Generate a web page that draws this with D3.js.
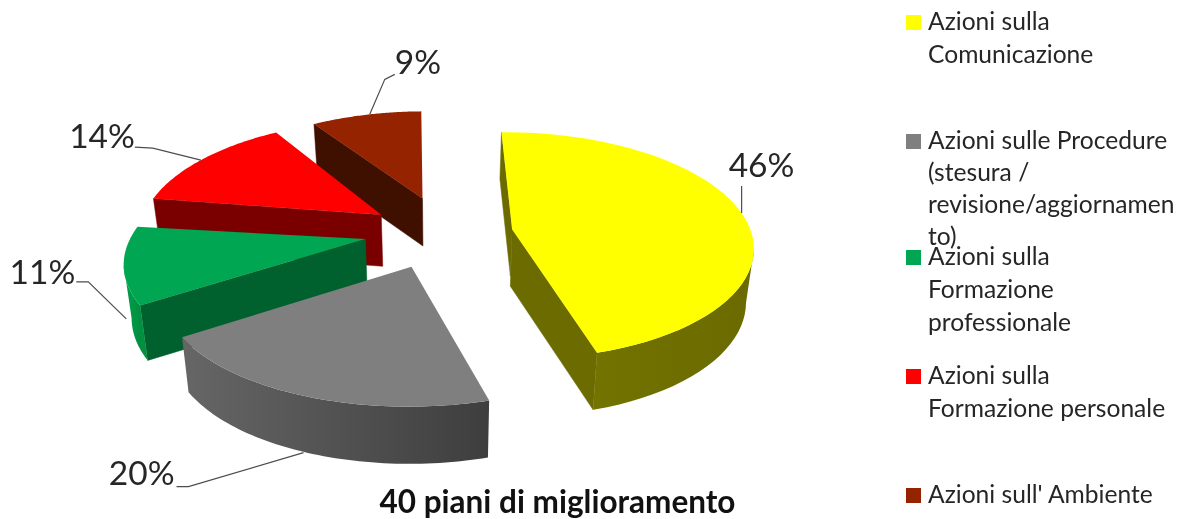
<!DOCTYPE html>
<html>
<head>
<meta charset="utf-8">
<script src="https://cdn.jsdelivr.net/npm/d3@7"></script>
<style>
  html, body { margin: 0; padding: 0; background: #fff; }
  svg { display: block; filter: blur(0.5px); }
  text { font-family: Lato, "Open Sans", sans-serif; fill: #262626; }
</style>
</head>
<body>
<div id="chart"></div>
<script>
// data
const categories = ["Azioni sulla Comunicazione", "Azioni sulle Procedure", "Azioni sulla Formazione professionale", "Azioni sulla Formazione personale", "Azioni sull' Ambiente"];
const values = [46, 20, 11, 14, 9];
const valueLabels = ["46%", "20%", "11%", "14%", "9%"];
const legendLines = [
    ["Azioni sulla", "Comunicazione"],
    ["Azioni sulle Procedure", "(stesura /", "revisione/aggiornamen", "to)"],
    ["Azioni sulla", "Formazione", "professionale"],
    ["Azioni sulla", "Formazione personale"],
    ["Azioni sull' Ambiente"]
];
const subtitle = "40 piani di miglioramento";

// styles
const topColors = ["#ffff00", "#7f7f7f", "#00a651", "#ff0000", "#952300"];
const wallColors = ["#6b6b00", "#555555", "#00602e", "#7a0000", "#3f1000"];
const rimLeft = ["#787800", "#666666", "#00a04c", "#7a0000", "#3f1000"];
const rimRight = ["#6a6a00", "#3e3e3e", "#00903f", "#7a0000", "#3f1000"];

// layout of the exploded pie
const width = 1181, height = 519,
    cx = 440, cy = 231,
    rx = 235, ry = 108.6,
    persp = 0.206,
    converge = 0.10, // far edges lean towards the middle of the picture
    bottomConverge = 0.025, // the underside is a bit narrower than the top
    explode = 0.313,
    depth = 52,
    startAngle = -1 * Math.PI / 180;

// small per slice corrections of the 3d look: apex x, apex y, rim y, rim width
const sliceNudge = [[0, 3, -7, 1], [-1, 2, 3, 1.03], [-2, 0, -1, 1], [2, 1, -5, 1], [3, -2, 3, 1]];

// label placement relative to the anchor on the slice edge: where on the arc, elbow, line end, text
const leaderLayout = [
    {along: 0.52, elbow: [0, -27], end: [0, -27], text: [-13, -36], anchorDrop: 0},
    {along: 0.5, elbow: [-115, 34], end: [-127, 34], text: [-129, 32], anchorDrop: 1},
    {along: 0.3, elbow: [-38, -37], end: [-50, -37], text: [-51, -35], anchorDrop: 0.7},
    {along: 0.48, elbow: [-48, -12], end: [-66, -13], text: [-66, -12], anchorDrop: 0},
    {along: 0.53, elbow: [15, -35], end: [25, -40], text: [25, -40], anchorDrop: 0}
];

const legendBase = [30, 149, 265, 384, 503];
const legendStep = [32.5, 32, 33, 33, 33];

function project(u, v) {
    // u to the right, v away from the viewer, both in radius units
    const s = 1 / (1 + persp * v);
    return [rx * u * s, -ry * v * s];
}

const slices = d3.pie().sort(null).startAngle(startAngle).endAngle(startAngle + 2 * Math.PI)(values)
    .map((d, i) => {
        const mid = (d.startAngle + d.endAngle) / 2;
        const u = explode * Math.sin(mid);
        const a = project(u, explode * Math.cos(mid));
        return {i: i, start: d.startAngle, end: d.endAngle, mid: mid, u: u,
            apex: [cx + a[0] + sliceNudge[i][0], cy + a[1] + sliceNudge[i][1]]};
    });

function rimPoint(sl, angle) {
    const p = project(Math.sin(angle), Math.cos(angle));
    return [sl.apex[0] + p[0] * sliceNudge[sl.i][3] - converge * sl.u * Math.cos(angle) * rx,
        sl.apex[1] + p[1] + sliceNudge[sl.i][2]];
}
function dropOf(angle) {
    return depth * (1 - 0.1 * Math.cos(angle));
}
function under(p, angle) {
    return [p[0] + (cx - p[0]) * bottomConverge, p[1] + dropOf(angle)];
}

const svg = d3.select("#chart").append("svg")
    .attr("width", width)
    .attr("height", height)
    .attr("viewBox", `0 0 ${width} ${height}`);

const defs = svg.append("defs");
const line = d3.line();

// back slices first
const order = slices.slice().sort((a, b) => a.apex[1] - b.apex[1]);

order.forEach(sl => {
    const g = svg.append("g").attr("class", "slice");
    const angles = d3.range(0, 61).map(n => sl.start + (sl.end - sl.start) * n / 60);
    const rim = angles.map(a => rimPoint(sl, a));

    const gradId = "rim-" + sl.i;
    const grad = defs.append("linearGradient").attr("id", gradId)
        .attr("gradientUnits", "userSpaceOnUse")
        .attr("x1", d3.min(rim, p => p[0])).attr("x2", d3.max(rim, p => p[0]))
        .attr("y1", 0).attr("y2", 0);
    grad.append("stop").attr("offset", 0).attr("stop-color", rimLeft[sl.i]);
    grad.append("stop").attr("offset", 1).attr("stop-color", rimRight[sl.i]);

    // radial walls, only the ones turned to the viewer (travelling left on screen)
    [[sl.apex, rim[0], sl.start], [rim[60], sl.apex, sl.end]].forEach(w => {
        if (w[1][0] - w[0][0] >= 0) return;
        g.append("path")
            .attr("d", line([w[0], w[1], under(w[1], w[2]), under(w[0], w[2])]) + "Z")
            .attr("fill", wallColors[sl.i])
            .attr("stroke", wallColors[sl.i]).attr("stroke-width", 0.5);
    });

    // outer rim
    let run = [];
    const visible = [];
    for (let n = 0; n < 60; n++) {
        if (rim[n + 1][0] < rim[n][0]) {
            if (!run.length) run.push(n);
            run.push(n + 1);
        } else if (run.length) {
            visible.push(run);
            run = [];
        }
    }
    if (run.length) visible.push(run);
    visible.forEach(ids => {
        const upper = ids.map(n => rim[n]);
        const lower = ids.map(n => under(rim[n], angles[n])).reverse();
        g.append("path")
            .attr("d", line(upper.concat(lower)) + "Z")
            .attr("fill", `url(#${gradId})`);
    });

    // top face
    g.append("path")
        .attr("d", line([sl.apex].concat(rim)) + "Z")
        .attr("fill", topColors[sl.i]);
});

// value labels with leader lines
slices.forEach(sl => {
    const l = leaderLayout[sl.i];
    const at = sl.start + (sl.end - sl.start) * l.along;
    const r = rimPoint(sl, at);
    const anchor = [r[0], r[1] + dropOf(at) * l.anchorDrop];
    svg.append("path")
        .attr("d", line([anchor, [anchor[0] + l.elbow[0], anchor[1] + l.elbow[1]], [anchor[0] + l.end[0], anchor[1] + l.end[1]]]))
        .attr("fill", "none")
        .attr("stroke", "#4d4d4d")
        .attr("stroke-width", 1.2);
    svg.append("text")
        .attr("x", anchor[0] + l.text[0])
        .attr("y", anchor[1] + l.text[1])
        .attr("text-anchor", l.text[0] < -20 ? "end" : "start")
        .style("font-size", "33.5px")
        .text(valueLabels[sl.i]);
});

svg.append("text")
    .attr("x", 557.5)
    .attr("y", 513)
    .attr("text-anchor", "middle")
    .style("font-size", "31.5px")
    .style("font-weight", "700")
    .style("fill", "#111")
    .text(subtitle);

// legend
const legend = svg.append("g").attr("class", "legend");
legendLines.forEach((lines, i) => {
    legend.append("rect")
        .attr("x", 906)
        .attr("y", legendBase[i] - 15)
        .attr("width", 15)
        .attr("height", 15)
        .attr("fill", topColors[i]);
    lines.forEach((t, j) => {
        legend.append("text")
            .attr("x", 928)
            .attr("y", legendBase[i] + j * legendStep[i])
            .style("font-size", "24.6px")
            .text(t);
    });
});
</script>
</body>
</html>
